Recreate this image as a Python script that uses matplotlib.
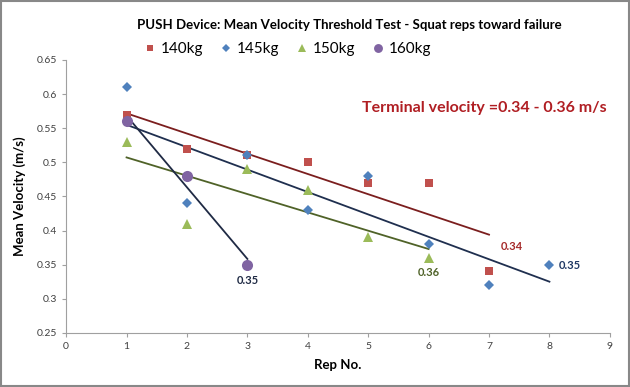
# PUSH device squat velocity test

import matplotlib
matplotlib.use('Agg')
import matplotlib.pyplot as plt
import numpy as np

reps_140 = [1, 2, 3, 4, 5, 6, 7]
vel_140 = [0.57, 0.52, 0.51, 0.50, 0.47, 0.47, 0.34]

reps_145 = [1, 2, 3, 4, 5, 6, 7, 8]
vel_145 = [0.61, 0.44, 0.51, 0.43, 0.48, 0.38, 0.32, 0.35]

reps_150 = [1, 2, 3, 4, 5, 6]
vel_150 = [0.53, 0.41, 0.49, 0.46, 0.39, 0.36]

reps_160 = [1, 2, 3]
vel_160 = [0.56, 0.48, 0.35]

series = (
    ('140kg', reps_140, vel_140, 's', '#C0504D', '#7B1E1E', 6),
    ('145kg', reps_145, vel_145, 'D', '#4F81BD', '#1F2F4F', 5),
    ('150kg', reps_150, vel_150, '^', '#9BBB59', '#4F6228', 7),
    ('160kg', reps_160, vel_160, 'o', '#8064A2', '#1F2A44', 8),
)

plt.rcParams['font.family'] = ['Lato', 'DejaVu Sans']

fig = plt.figure(figsize=(6.3, 3.87), dpi=100)
ax = fig.add_axes((0.105, 0.14, 0.863, 0.705))

for name, x, y, marker, color, line_color, size in series:
    ax.plot(x, y, linestyle='none', marker=marker, color=color, markersize=size,
            markeredgewidth=0, label=name, zorder=3)
    slope, intercept = np.polyfit(x, y, 1)
    xs = np.array([x[0], x[-1]])
    ax.plot(xs, slope * xs + intercept, color=line_color, linewidth=1.3, zorder=2)

# end-point labels
ax.text(3, 0.322, '0.35', color='#1F2A44', fontsize=8, fontweight='bold', ha='center')
ax.text(7.2, 0.372, '0.34', color='#A52A2A', fontsize=8, fontweight='bold', ha='left')
ax.text(6, 0.333, '0.36', color='#4F6228', fontsize=8, fontweight='bold', ha='center')
ax.text(8.15, 0.344, '0.35', color='#1F3864', fontsize=8, fontweight='bold', ha='left')

ax.text(4.9, 0.58, 'Terminal velocity =0.34 - 0.36 m/s', color='#B01E23',
        fontsize=11.5, fontweight='bold', va='center')

ax.set_xlim(0, 9)
ax.set_ylim(0.25, 0.65)
ax.set_xticks(range(0, 10))
yt = [0.25, 0.3, 0.35, 0.4, 0.45, 0.5, 0.55, 0.6, 0.65]
ax.set_yticks(yt)
ax.set_yticklabels(['{:g}'.format(v) for v in yt])
ax.tick_params(labelsize=7.5, colors='#404040', length=3, width=0.8)
ax.tick_params(axis='both', color='#A0A0A0')

for side in ('top', 'right'):
    ax.spines[side].set_visible(False)
for side in ('left', 'bottom'):
    ax.spines[side].set_color('#A0A0A0')
    ax.spines[side].set_linewidth(0.8)

ax.set_xlabel('Rep No.', fontsize=9.5, fontweight='bold', labelpad=6)
ax.set_ylabel('Mean Velocity (m/s)', fontsize=9.5, fontweight='bold', labelpad=8)

fig.text(0.554, 0.935, 'PUSH Device: Mean Velocity Threshold Test - Squat reps toward failure',
         ha='center', va='center', fontsize=9.5, fontweight='bold')

fig.legend(loc='center', bbox_to_anchor=(0.455, 0.873), ncol=4, frameon=False,
           fontsize=11, handletextpad=0.2, columnspacing=1.0, handlelength=1.0,
           markerscale=0.8)

# outer border
fig.patches.append(matplotlib.patches.Rectangle((0.002, 0.003), 0.996, 0.994,
                   transform=fig.transFigure, fill=False, edgecolor='#888888',
                   linewidth=1.5))

plt.savefig('out.png')
plt.close()
